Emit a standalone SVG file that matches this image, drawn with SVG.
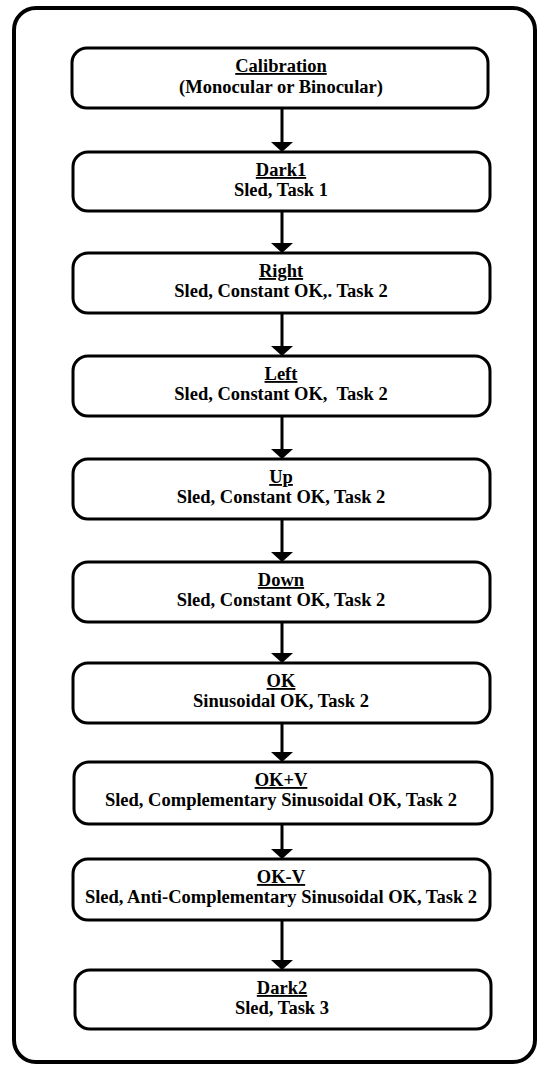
<svg xmlns="http://www.w3.org/2000/svg" width="540" height="1065" viewBox="0 0 540 1065">
<defs>
<style>
.frame{fill:none;stroke:#000;stroke-width:4}
.box{fill:#fff;stroke:#000;stroke-width:3}
.t{font-family:"Liberation Serif","Times New Roman",serif;font-size:18.5px;font-weight:bold;text-anchor:middle;fill:#000}
.h{text-decoration:underline}
.c line{stroke:#000;stroke-width:3}
.c polygon{fill:#000}
</style>
</defs>
<rect width="540" height="1065" fill="#fff"/>
<rect class="frame" x="14" y="8" width="521" height="1054" rx="22"/>
<g class="c" id="connectors">
<line x1="282" y1="108" x2="282" y2="144"/><polygon points="271,142 293,142 282,152"/>
<line x1="282" y1="211" x2="282" y2="245"/><polygon points="271,243 293,243 282,253"/>
<line x1="282" y1="313" x2="282" y2="348"/><polygon points="271,346 293,346 282,356"/>
<line x1="282" y1="416" x2="282" y2="451"/><polygon points="271,449 293,449 282,459"/>
<line x1="282" y1="519" x2="282" y2="554"/><polygon points="271,552 293,552 282,562"/>
<line x1="282" y1="622" x2="282" y2="655"/><polygon points="271,653 293,653 282,663"/>
<line x1="282" y1="723" x2="282" y2="754"/><polygon points="271,752 293,752 282,762"/>
<line x1="282" y1="824" x2="282" y2="851"/><polygon points="271,849 293,849 282,859"/>
<line x1="282" y1="920" x2="282" y2="962"/><polygon points="271,960 293,960 282,970"/>
</g>
<g id="calibration"><rect class="box" x="72" y="48" width="416" height="60" rx="15"/>
<text class="t h" x="281" y="72">Calibration</text><text class="t" x="281" y="93">(Monocular or Binocular)</text></g>
<g id="dark1"><rect class="box" x="73" y="152" width="417" height="59" rx="15"/>
<text class="t h" x="281" y="176">Dark1</text><text class="t" x="281" y="196">Sled, Task 1</text></g>
<g id="right"><rect class="box" x="73" y="253" width="417" height="60" rx="15"/>
<text class="t h" x="281" y="277">Right</text><text class="t" x="281" y="297">Sled, Constant OK,. Task 2</text></g>
<g id="left"><rect class="box" x="73" y="356" width="417" height="60" rx="15"/>
<text class="t h" x="281" y="380">Left</text><text class="t" x="281" y="400" xml:space="preserve">Sled, Constant OK,  Task 2</text></g>
<g id="up"><rect class="box" x="73" y="459" width="417" height="60" rx="15"/>
<text class="t h" x="281" y="483">Up</text><text class="t" x="281" y="503">Sled, Constant OK, Task 2</text></g>
<g id="down"><rect class="box" x="73" y="562" width="417" height="60" rx="15"/>
<text class="t h" x="281" y="586">Down</text><text class="t" x="281" y="606">Sled, Constant OK, Task 2</text></g>
<g id="ok"><rect class="box" x="73" y="663" width="417" height="60" rx="15"/>
<text class="t h" x="281" y="687">OK</text><text class="t" x="281" y="707">Sinusoidal OK, Task 2</text></g>
<g id="okpv"><rect class="box" x="74" y="762" width="418" height="62" rx="15"/>
<text class="t h" x="281" y="786">OK+V</text><text class="t" x="281" y="806">Sled, Complementary Sinusoidal OK, Task 2</text></g>
<g id="okmv"><rect class="box" x="73" y="859" width="417" height="61" rx="15"/>
<text class="t h" x="281" y="883">OK-V</text><text class="t" x="281" y="903">Sled, Anti-Complementary Sinusoidal OK, Task 2</text></g>
<g id="dark2"><rect class="box" x="75" y="970" width="416" height="59" rx="15"/>
<text class="t h" x="282" y="994">Dark2</text><text class="t" x="282" y="1014">Sled, Task 3</text></g>
</svg>
